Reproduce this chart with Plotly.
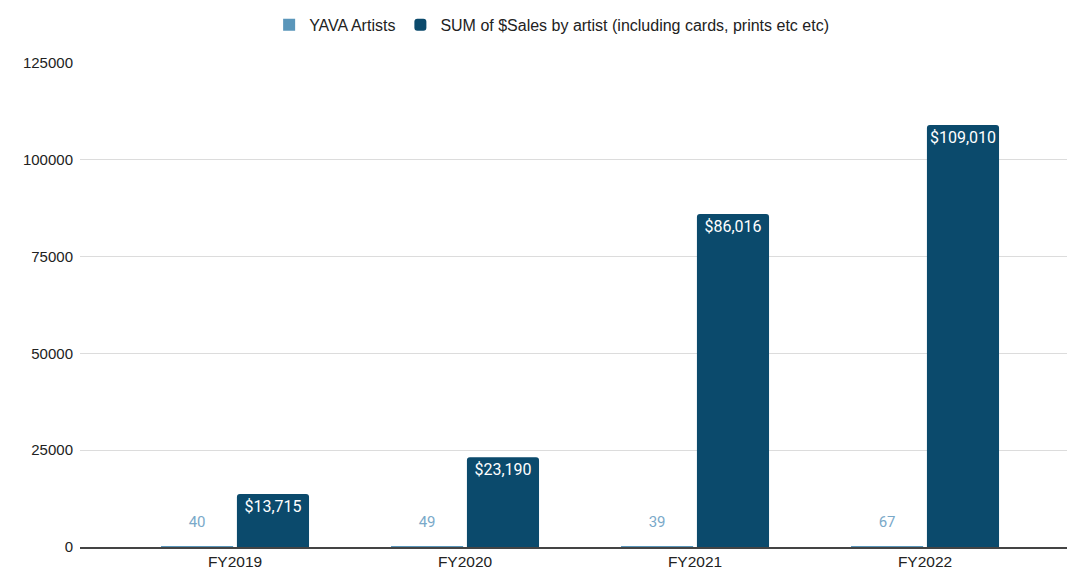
import plotly.graph_objects as go

categories = ["FY2019", "FY2020", "FY2021", "FY2022"]
yava_artists = [40, 49, 39, 67]
sales = [13715, 23190, 86016, 109010]
sales_labels = ["$13,715", "$23,190", "$86,016", "$109,010"]
y_ticks = [0, 25000, 50000, 75000, 100000, 125000]

LIGHT = "#5a96ba"
DARK = "#0b4a6c"

fig = go.Figure()
fig.add_trace(go.Bar(
    x=categories, y=yava_artists, name="YAVA Artists",
    marker=dict(color=LIGHT, line=dict(width=0)),
    offsetgroup="a",
))
fig.add_trace(go.Bar(
    x=categories, y=sales, name="SUM of $Sales by artist (including cards, prints etc etc)",
    marker=dict(color=DARK, cornerradius=3, line=dict(width=0)), text=sales_labels,
    textposition="inside", insidetextanchor="end", constraintext="none",
    textfont=dict(color="white", size=16, family="Roboto, Liberation Sans, Arial"),
    offsetgroup="b",
))
# labels for the small YAVA bars, placed over each light bar
fig.add_trace(go.Scatter(
    x=categories, y=yava_artists, mode="markers+text",
    text=[str(v) for v in yava_artists], textposition="top center",
    marker=dict(size=24, opacity=0), showlegend=False, hoverinfo="skip",
    textfont=dict(color="#7aa9c9", size=15, family="Roboto, Liberation Sans, Arial"),
    offsetgroup="a", cliponaxis=False,
))

fig.update_layout(
    width=1067, height=563,
    margin=dict(l=72, r=0, t=55, b=24),
    paper_bgcolor="white", plot_bgcolor="white",
    barmode="group", bargap=0.34, bargroupgap=0.05, scattermode="group",
    font=dict(family="Liberation Sans, Arial", size=15, color="#222"),
    legend=dict(orientation="h", x=0.474, xanchor="center", y=0.97, yanchor="middle",
                yref="container", font=dict(size=16, color="#222"),
                itemwidth=30),
    showlegend=True,
    uniformtext=dict(mode=False),
)
fig.update_xaxes(range=[-0.674, 3.652], showgrid=False, showline=True,
                 linecolor="#444", linewidth=1.5, ticks="", ticklabelstandoff=0,
                 tickfont=dict(size=15.5, color="#222"))
fig.update_yaxes(range=[0, 125000], tickvals=y_ticks, ticktext=[str(v) for v in y_ticks],
                 showgrid=True, gridcolor="#dcdcdc", gridwidth=1, zeroline=False,
                 ticks="", ticklabelstandoff=6, tickfont=dict(size=15, color="#222"))

fig.write_html("out.html")
